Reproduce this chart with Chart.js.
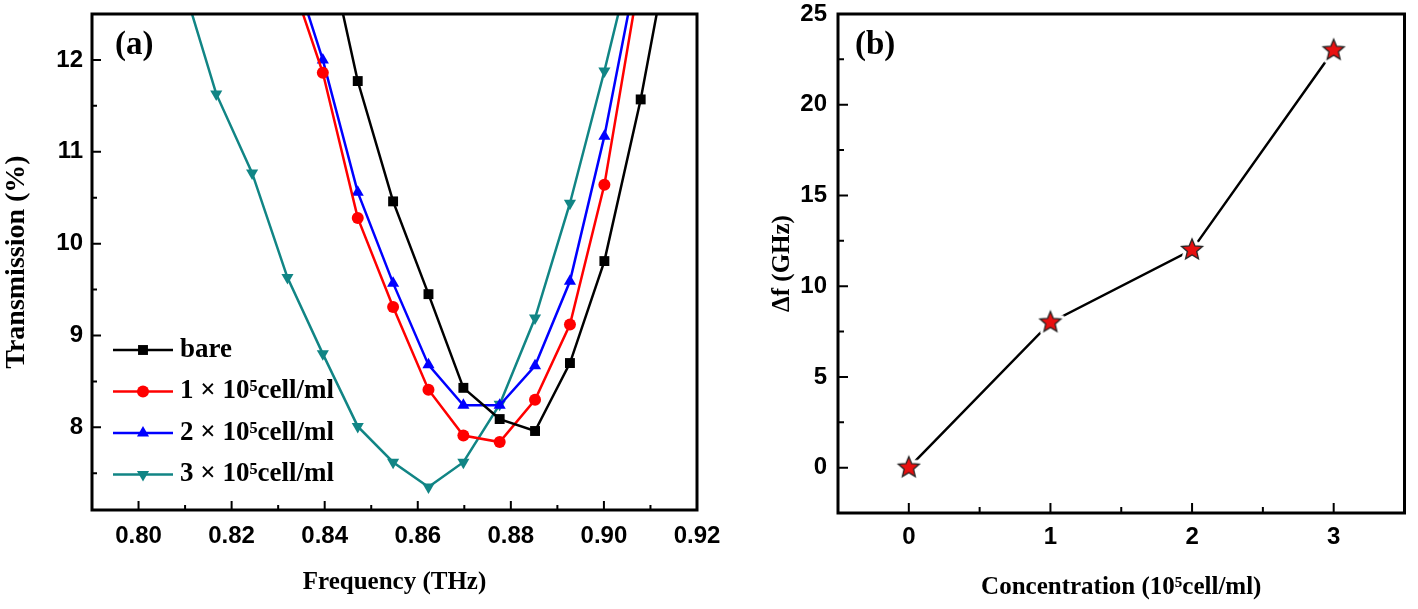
<!DOCTYPE html>
<html>
<head>
<meta charset="utf-8">
<script src="https://cdn.jsdelivr.net/npm/chart.js@4.4.1/dist/chart.umd.min.js"></script>
<style>
html, body { margin: 0; padding: 0; background: #fff; }
body { width: 1418px; height: 609px; position: relative; overflow: hidden; }
canvas { position: absolute; top: 0; }
#chartA { left: 0; }
#chartB { left: 720px; }
.tag { position: absolute; font: bold 33px "Liberation Serif", serif; line-height: 1; color: #000; }
</style>
</head>
<body>
<canvas id="chartA" width="720" height="609"></canvas>
<canvas id="chartB" width="698" height="609"></canvas>
<div class="tag" style="left:115px;top:27px">(a)</div>
<div class="tag" style="left:855px;top:27px">(b)</div>
<script>
// (a) transmission around the resonance dip
const freq = [0.8091, 0.8167, 0.8244, 0.8320, 0.8396, 0.8471, 0.8547, 0.8623,
              0.8698, 0.8776, 0.8852, 0.8927, 0.9001, 0.9079, 0.9154];
const bare  = [null, null, null, null, 13.5, 11.77, 10.46, 9.45, 8.43, 8.09, 7.96, 8.70, 9.81, 11.57, 13.6];
const conc1 = [null, null, null, 13.0, 11.86, 10.28, 9.31, 8.41, 7.91, 7.84, 8.30, 9.12, 10.64, 12.97, null];
const conc2 = [null, null, null, 13.2, 12.0, 10.56, 9.57, 8.68, 8.24, 8.24, 8.67, 9.59, 11.17, 13.2, null];
const conc3 = [12.9, 11.63, 10.77, 9.63, 8.80, 8.01, 7.62, 7.35, 7.62, 8.25, 9.19, 10.44, 11.88, 13.5, null];
const seriesNames = ['bare', '1 × 10⁵cell/ml', '2 × 10⁵cell/ml', '3 × 10⁵cell/ml'];
const freqTicks = [0.80, 0.82, 0.84, 0.86, 0.88, 0.90, 0.92];
const transTicks = [8, 9, 10, 11, 12];

// (b) frequency shift vs concentration
const concentration = [0, 1, 2, 3];
const shift = [0, 8, 12, 23];
const concTicks = [0, 1, 2, 3];
const shiftTicks = [0, 5, 10, 15, 20, 25];

const tickFont = { family: '"Liberation Sans", Arial, sans-serif', size: 24, weight: 'bold' };
const titleFont = { family: '"Liberation Serif", "Times New Roman", serif', size: 25, weight: 'bold' };
const bigTitleFont = { family: '"Liberation Serif", "Times New Roman", serif', size: 28, weight: 'bold' };

// same geometry as chart.js point styles, used for the legend
function marker(ctx, style, rot, r, x, y) {
  ctx.beginPath();
  if (style === 'rect') {
    const s = r * Math.SQRT1_2;
    ctx.rect(x - s, y - s, 2 * s, 2 * s);
  } else if (style === 'circle') {
    ctx.arc(x, y, r, 0, Math.PI * 2);
  } else {
    let a = rot * Math.PI / 180;
    for (let k = 0; k < 3; k++) {
      const px = x + Math.sin(a) * r, py = y - Math.cos(a) * r;
      k ? ctx.lineTo(px, py) : ctx.moveTo(px, py);
      a += Math.PI * 2 / 3;
    }
    ctx.closePath();
  }
  ctx.fill();
}

function makeStar(r) {
  const size = Math.ceil(2 * r + 8);
  const c = document.createElement('canvas');
  c.width = c.height = size;
  const g = c.getContext('2d');
  g.beginPath();
  for (let i = 0; i < 10; i++) {
    const rr = i % 2 ? r * 0.45 : r;
    const a = -Math.PI / 2 + i * Math.PI / 5;
    const px = size / 2 + rr * Math.cos(a), py = size / 2 + rr * Math.sin(a);
    i ? g.lineTo(px, py) : g.moveTo(px, py);
  }
  g.closePath();
  g.lineJoin = 'round';
  g.strokeStyle = '#fff'; g.lineWidth = 8; g.stroke();
  g.fillStyle = '#e81010'; g.fill();
  g.lineJoin = 'miter'; g.strokeStyle = '#222'; g.lineWidth = 1.3; g.stroke();
  return c;
}

// box around the plot + inward major/minor ticks
const frame = {
  id: 'frame',
  afterDatasetsDraw(chart, args, o) {
    const { ctx, chartArea: a } = chart;
    const xs = chart.scales.x, ys = chart.scales.y;
    const halves = s => {
      const v = s.ticks.map(t => t.value), st = v[1] - v[0], out = [];
      for (let k = v[0] - st / 2; k <= s.max + 1e-9; k += st) if (k >= s.min - 1e-9) out.push(k);
      return out;
    };
    ctx.save();
    ctx.strokeStyle = '#000';
    ctx.lineWidth = 2;
    ctx.beginPath();
    xs.ticks.forEach(t => { const p = xs.getPixelForValue(t.value); ctx.moveTo(p, a.bottom); ctx.lineTo(p, a.bottom - o.major); });
    halves(xs).forEach(v => { const p = xs.getPixelForValue(v); ctx.moveTo(p, a.bottom); ctx.lineTo(p, a.bottom - o.minor); });
    ys.ticks.forEach(t => { const p = ys.getPixelForValue(t.value); ctx.moveTo(a.left, p); ctx.lineTo(a.left + o.major, p); });
    halves(ys).forEach(v => { const p = ys.getPixelForValue(v); ctx.moveTo(a.left, p); ctx.lineTo(a.left + o.minor, p); });
    ctx.stroke();
    ctx.lineWidth = o.border;
    ctx.strokeRect(a.left, a.top, a.right - a.left, a.bottom - a.top);
    ctx.restore();
  }
};

const lineLegend = {
  id: 'lineLegend',
  afterDatasetsDraw(chart, args, o) {
    const ctx = chart.ctx;
    ctx.save();
    chart.data.datasets.forEach((ds, i) => {
      const y = o.y + i * o.rowGap;
      ctx.strokeStyle = ds.borderColor;
      ctx.fillStyle = ds.borderColor;
      ctx.lineWidth = ds.borderWidth;
      ctx.beginPath();
      ctx.moveTo(o.x, y);
      ctx.lineTo(o.x + o.lineLen, y);
      ctx.stroke();
      marker(ctx, ds.pointStyle, ds.pointRotation || 0, ds.pointRadius, o.x + o.lineLen / 2, y);
      ctx.fillStyle = '#000';
      ctx.font = o.font;
      ctx.textBaseline = 'middle';
      ctx.fillText(ds.label, o.x + o.lineLen + o.gap, y);
    });
    ctx.restore();
  }
};

function pts(xs, ys) { return xs.map((x, i) => ({ x: x, y: ys[i] })); }

const looks = [
  { color: '#000000', pointStyle: 'rect', radius: 7, rotation: 0 },
  { color: '#ff0000', pointStyle: 'circle', radius: 6, rotation: 0 },
  { color: '#0000ff', pointStyle: 'triangle', radius: 7, rotation: 0 },
  { color: '#118585', pointStyle: 'triangle', radius: 7, rotation: 180 }
];

new Chart(document.getElementById('chartA'), {
  type: 'line',
  data: {
    datasets: [bare, conc1, conc2, conc3].map((s, i) => ({
      label: seriesNames[i],
      data: pts(freq, s),
      borderColor: looks[i].color,
      backgroundColor: looks[i].color,
      borderWidth: 2.5,
      pointStyle: looks[i].pointStyle,
      pointRadius: looks[i].radius,
      pointRotation: looks[i].rotation,
      pointBorderWidth: 0,
      tension: 0
    }))
  },
  plugins: [frame, lineLegend],
  options: {
    responsive: false,
    animation: false,
    events: [],
    layout: { padding: { top: 14, right: 23, left: 0, bottom: 0 } },
    plugins: {
      legend: { display: false },
      tooltip: { enabled: false },
      frame: { major: 9, minor: 5, border: 3 },
      lineLegend: { x: 113, y: 350, rowGap: 41.5, lineLen: 60, gap: 7, font: 'bold 27px "Liberation Serif", serif' }
    },
    scales: {
      x: {
        type: 'linear', min: 0.79, max: 0.92,
        afterBuildTicks: s => { s.ticks = freqTicks.map(v => ({ value: v })); },
        afterFit: s => { s.height = 99; s.paddingLeft = 0; s.paddingRight = 0; },
        grid: { display: false, drawTicks: false },
        border: { display: false },
        ticks: { padding: 12, color: '#000', font: tickFont, autoSkip: false, maxRotation: 0, callback: v => v.toFixed(2) },
        title: { display: true, text: 'Frequency (THz)', color: '#000', font: titleFont, padding: { top: 0, bottom: 11 } }
      },
      y: {
        type: 'linear', min: 7.1, max: 12.5,
        afterBuildTicks: s => { s.ticks = transTicks.map(v => ({ value: v })); },
        afterFit: s => { s.width = 92; s.paddingTop = 0; s.paddingBottom = 0; },
        grid: { display: false, drawTicks: false },
        border: { display: false },
        ticks: { padding: 9, color: '#000', font: tickFont, autoSkip: false },
        title: { display: true, text: 'Transmission (%)', color: '#000', font: bigTitleFont, padding: { top: 0, bottom: 0 } }
      }
    }
  }
});

new Chart(document.getElementById('chartB'), {
  type: 'line',
  data: {
    datasets: [{
      label: 'Δf',
      data: pts(concentration, shift),
      borderColor: '#000',
      borderWidth: 2.5,
      pointStyle: makeStar(11),
      pointRadius: 11,
      tension: 0
    }]
  },
  plugins: [frame],
  options: {
    responsive: false,
    animation: false,
    events: [],
    layout: { padding: { top: 14, right: 6, left: 0, bottom: 0 } },
    plugins: {
      legend: { display: false },
      tooltip: { enabled: false },
      frame: { major: 10, minor: 6, border: 3 }
    },
    scales: {
      x: {
        type: 'linear', min: -0.5, max: 3.5,
        afterBuildTicks: s => { s.ticks = concTicks.map(v => ({ value: v })); },
        afterFit: s => { s.height = 96; s.paddingLeft = 0; s.paddingRight = 0; },
        grid: { display: false, drawTicks: false },
        border: { display: false },
        ticks: { padding: 10, color: '#000', font: tickFont, autoSkip: false, maxRotation: 0 },
        title: { display: true, text: 'Concentration (10⁵cell/ml)', color: '#000', font: titleFont, padding: { top: 0, bottom: 6 } }
      },
      y: {
        type: 'linear', min: -2.5, max: 25,
        afterBuildTicks: s => { s.ticks = shiftTicks.map(v => ({ value: v })); },
        afterFit: s => { s.width = 118; s.paddingTop = 0; s.paddingBottom = 0; },
        grid: { display: false, drawTicks: false },
        border: { display: false },
        ticks: { padding: 11, color: '#000', font: tickFont, autoSkip: false },
        title: { display: true, text: 'Δf (GHz)', color: '#000', font: titleFont, padding: { top: 48, bottom: 0 } }
      }
    }
  }
});
</script>
</body>
</html>
